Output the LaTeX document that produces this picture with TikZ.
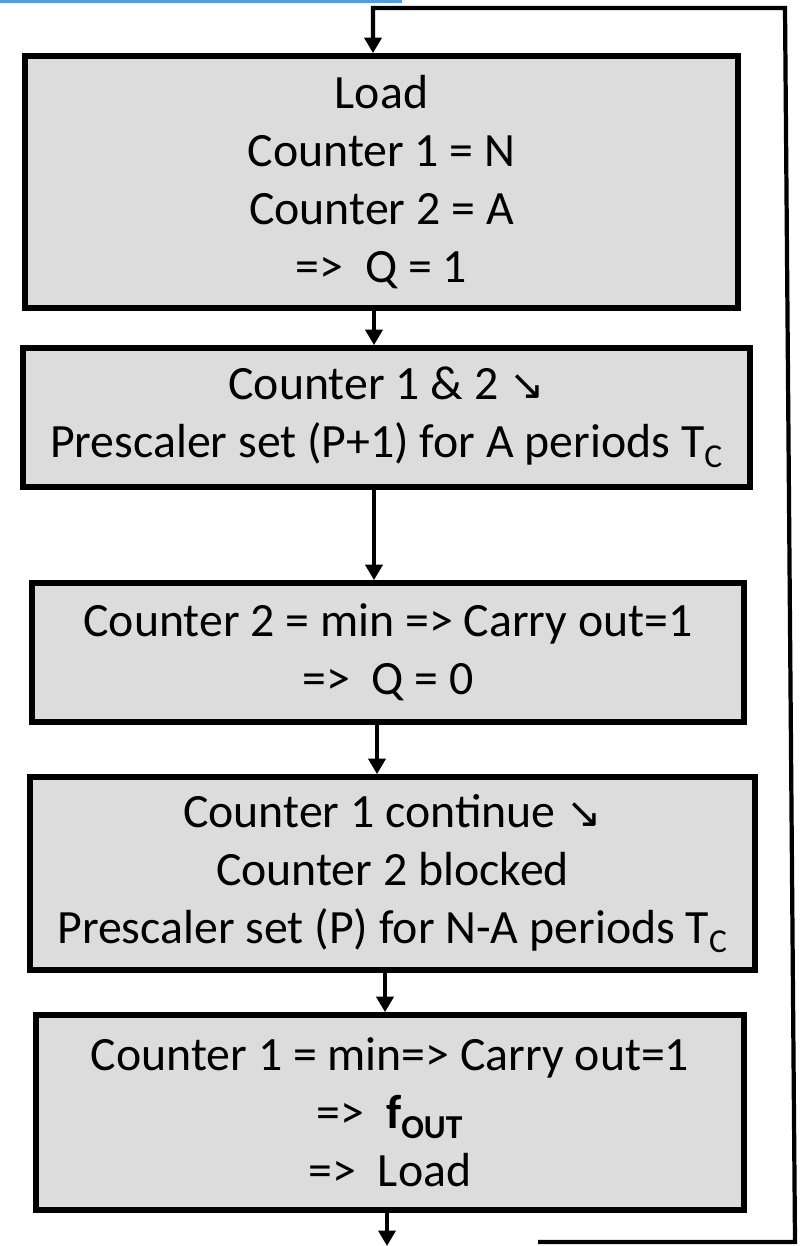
\documentclass[tikz,border=0pt]{standalone}
\usepackage{fontspec}
\setmainfont{Carlito}
\newfontfamily\symfont{DejaVu Sans}
\usetikzlibrary{arrows.meta}
\definecolor{boxgray}{RGB}{220,220,220}
\definecolor{rulerblue}{RGB}{91,155,213}
\newcommand{\dnarrow}{{\symfont\fontsize{30}{32}\selectfont ↘}}
\newcommand{\Tc}{T\textsubscript{C}}
\tikzset{
  stepbox/.style={draw=black, line width=4pt, fill=boxgray, align=center,
    inner sep=0pt, font=\fontsize{34}{41.2}\selectfont},
  flow/.style={line width=2.8pt, ->},
  >={Triangle[length=11pt, width=12pt]}
}
\begin{document}
\begin{tikzpicture}[x=0.025cm, y=-0.025cm]
\useasboundingbox (0,0) rectangle (800,1246);
% blue rule at the top edge
\fill[rulerblue] (0,0) rectangle (402,3);
% the five steps
\node[stepbox, minimum width=17.825cm, minimum height=6.3cm]   (load)  at (381.5,182)
  {Load\\Counter 1 = N\\Counter 2 = A\\=>\ \ Q = 1};
\node[stepbox, minimum width=18.175cm, minimum height=3.475cm] (both)  at (386.5,417.5)
  {Counter 1 \& 2 \dnarrow\\Prescaler set (P+1) for A periods \Tc};
\node[stepbox, minimum width=17.8cm,  minimum height=3.475cm]  (carry) at (388,652.5)
  {Counter 2 = min => Carry out=1\\=>\ \ Q = 0};
\node[stepbox, minimum width=18.125cm,minimum height=4.825cm]  (cont)  at (392.5,873.5)
  {Counter 1 continue \dnarrow\\Counter 2 blocked\\Prescaler set (P) for N-A periods \Tc};
\node[stepbox, minimum width=17.7cm,  minimum height=4.875cm]  (fout)  at (390,1112.5)
  {Counter 1 = min=> Carry out=1\\=>\ \ \textbf{f}\textsubscript{\textbf{OUT}}\\=>\ \ Load};
% arrows between steps
\draw[flow] (load.south -| 374,0)  -- (both.north -| 374,0);
\draw[flow] (both.south -| 374,0)  -- (carry.north -| 374,0);
\draw[flow] (carry.south -| 377,0) -- (cont.north -| 377,0);
\draw[flow] (cont.south -| 385,0)  -- (fout.north -| 385,0);
% output arrow and loop back
\coordinate (out)  at (387,1246);
\coordinate (back) at (538,1242);
\draw[flow] (fout.south -| 387,0) -- (out);
\draw[line width=3pt, ->] (back) -- (795,1242) -- (785,8) -- (373,8) -- (load.north -| 373,0);
\end{tikzpicture}
\end{document}
